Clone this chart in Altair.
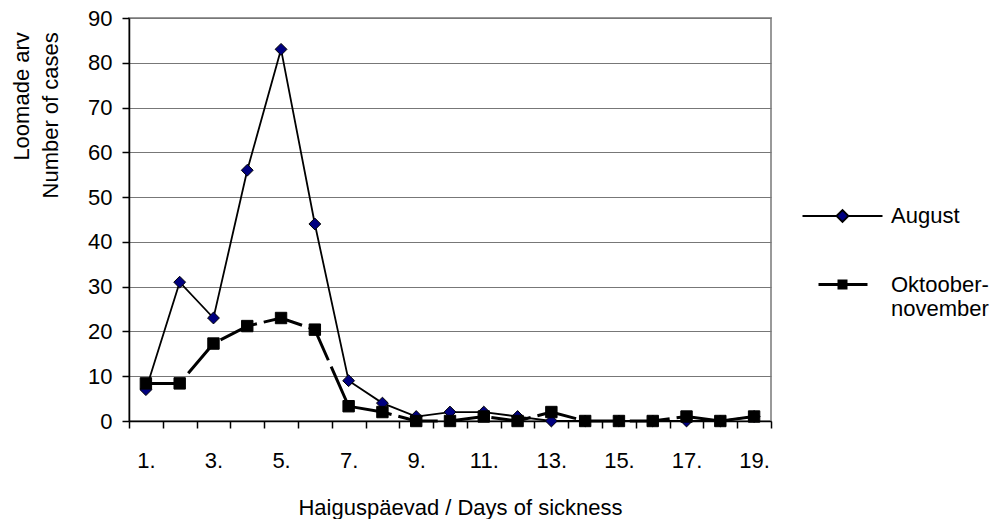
import altair as alt
import pandas as pd

# ---- data ----
days = list(range(1, 20))
august = [7, 31, 23, 56, 83, 44, 9, 4, 1, 2, 2, 1, 0, 0, 0, 0, 0, 0, 1]
oktoober = [8.4, 8.4, 17.3, 21.2, 23, 20.4, 3.3, 2, 0, 0, 1, 0, 2, 0, 0, 0, 1, 0, 1]
series_names = ["August", "Oktoober-november"]
y_ticks = list(range(0, 100, 10))
x_title = "Haiguspäevad / Days of sickness"
y_title = ["Loomade arv", "Number of cases"]

df = pd.DataFrame({
    "day": days * 2,
    "value": august + oktoober,
    "series": [series_names[0]] * len(days) + [series_names[1]] * len(days),
})

FONT = "Liberation Sans"

x_enc = alt.X(
    "day:O",
    bandPosition=0.5,
    scale=alt.Scale(type="band", paddingInner=0, paddingOuter=0),
    axis=alt.Axis(
        title=x_title,
        tickBand="extent",
        labelExpr="datum.value % 2 == 1 ? datum.label + '.' : ''",
        labelAngle=0,
        labelOverlap=False,
        labelPadding=22,
        tickSize=7,
        tickWidth=1.5,
        domainWidth=1.5,
        grid=False,
        titleX=331,
        titleY=93,
        titleBaseline="alphabetic",
    ),
)
y_enc = alt.Y(
    "value:Q",
    scale=alt.Scale(domain=[0, 90], nice=False),
    axis=alt.Axis(
        title=y_title,
        values=y_ticks,
        tickSize=7,
        tickWidth=1.5,
        domainWidth=1.5,
        labelPadding=10,
        grid=True,
        gridColor="#777777",
        gridWidth=1,
        titleAngle=270,
        titleAlign="right",
        titleBaseline="alphabetic",
        titleX=-100.7,
        titleY=13.7,
        titleLineHeight=29,
    ),
)

base = alt.Chart(df).encode(x=x_enc, y=y_enc)

aug_line = base.transform_filter(alt.datum.series == series_names[0]).mark_line(
    color="black", strokeWidth=1.8
)
okt_line = base.transform_filter(alt.datum.series == series_names[1]).mark_line(
    color="black", strokeWidth=3, strokeDash=[40, 7]
)
aug_pts = base.transform_filter(alt.datum.series == series_names[0]).mark_point(
    shape="diamond", size=140, filled=True, fill="#000080", stroke="black",
    strokeWidth=1, opacity=1
)
okt_pts = base.transform_filter(alt.datum.series == series_names[1]).mark_point(
    shape="square", size=130, filled=True, fill="black", stroke="black",
    strokeWidth=1, opacity=1
)

# legend symbols: line + marker drawn as custom paths
path_aug = "M-1,0L-0.15,0M0.15,0L1,0M-0.15,0L0,-0.15L0.15,0L0,0.15Z"
path_okt = ("M-0.6,0L0.625,0"
            "M-0.0875,-0.0875L0.0875,-0.0875L0.0875,0.0875L-0.0875,0.0875Z")


def make_legend():
    return alt.Legend(
        title=None,
        orient="none",
        legendX=672,
        legendY=157,
        symbolSize=6400,
        labelFont=FONT,
        labelFontSize=22,
        labelColor="black",
        labelOffset=7,
        labelBaseline="middle",
        labelLimit=0,
        labelExpr="datum.label == 'Oktoober-november' ? ['Oktoober-', 'november'] : datum.label",
        rowPadding=16,
    )


legend_layer = base.transform_filter(alt.datum.day < 0).mark_point(
    filled=True, opacity=1
).encode(
    shape=alt.Shape("series:N", scale=alt.Scale(domain=series_names, range=[path_aug, path_okt]), legend=make_legend()),
    fill=alt.Fill("series:N", scale=alt.Scale(domain=series_names, range=["#000080", "#000000"]), legend=make_legend()),
    stroke=alt.Stroke("series:N", scale=alt.Scale(domain=series_names, range=["#000000", "#000000"]), legend=make_legend()),
    strokeWidth=alt.StrokeWidth("series:N", scale=alt.Scale(domain=series_names, range=[1.8, 3]), legend=make_legend()),
)

chart = alt.layer(aug_line, okt_line, aug_pts, okt_pts, legend_layer).properties(
    width=642,
    height=403,
    autosize=alt.AutoSizeParams(type="none"),
    padding={"left": 121, "top": 10, "right": 221, "bottom": 98},
).configure_view(
    stroke="#999999", strokeWidth=2
).configure_axis(
    labelFont=FONT,
    labelFontSize=22,
    titleFont=FONT,
    titleFontSize=22,
    titleFontWeight="normal",
    labelColor="black",
    titleColor="black",
    domainColor="black",
    tickColor="black",
)

chart.save("out.html", embed_options={"renderer": "svg", "actions": False})
